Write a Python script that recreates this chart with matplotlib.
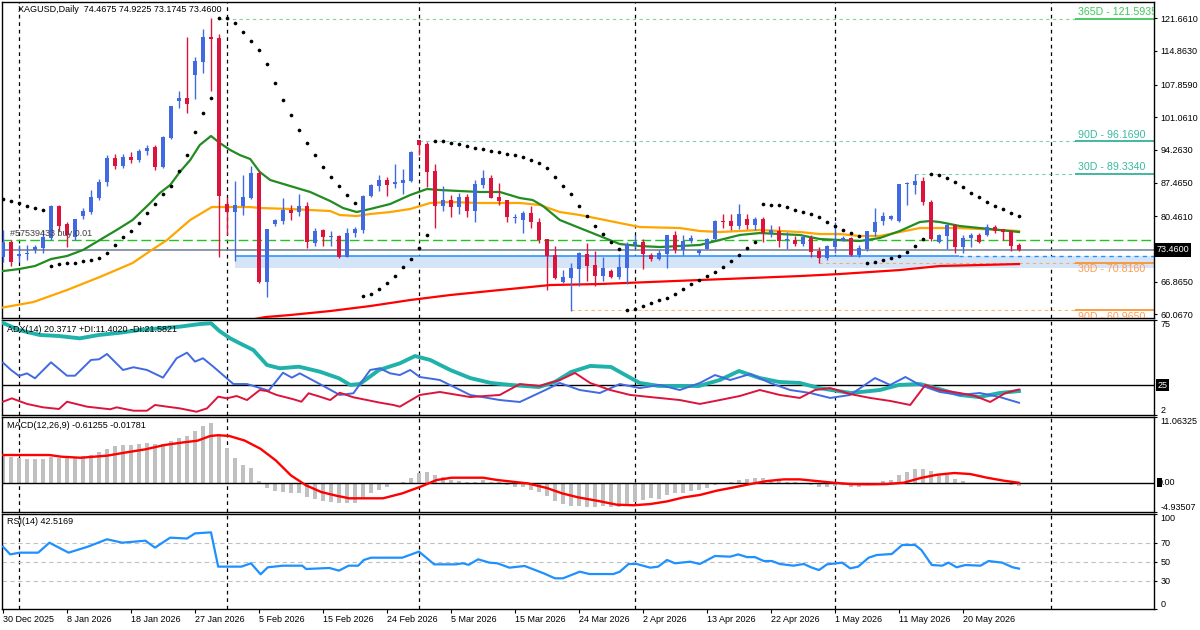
import matplotlib
matplotlib.use("Agg")
import matplotlib.pyplot as plt
from matplotlib.patches import Rectangle

plt.rcParams['font.family'] = ['Liberation Sans', 'DejaVu Sans']
plt.rcParams['font.size'] = 6.5

# ---- daily bars (index 0 = 30 Dec 2025) ----
opens = [71.99, 75.11, 72.2, 72.6, 73.45, 73.8, 75.9, 82.5, 78.8, 76.2,
         80.5, 81.4, 84.2, 87.6, 92.6, 91.0, 92.9, 92.2, 94.0, 94.88,
         90.72, 96.75, 104.45, 105.08, 109.86, 112.57, 117.77, 117.56, 83.02, 81.35,
         82.6, 84.27, 89.47, 66.79, 78.86, 79.48, 81.77, 81.35, 82.6, 74.9,
         77.6, 76.2, 76.36, 71.99, 76.98, 77.6, 84.68, 86.76, 88.01, 87.2,
         87.39, 87.8, 96.34, 95.5, 89.88, 82.6, 83.85, 82.4, 84.47, 81.6,
         86.9, 88.4, 84.5, 83.9, 80.1, 79.7, 81.2, 79.3, 75.7, 72.4,
         66.8, 67.6, 69.5, 72.7, 70.4, 68.0, 69.1, 67.9, 69.7, 74.5,
         75.1, 72.4, 71.6, 72.6, 76.6, 73.5, 75.3, 72.9, 73.7, 75.7,
         79.4, 79.5, 78.5, 80.0, 78.7, 80.0, 77.0, 77.4, 75.5, 75.5,
         74.7, 75.9, 73.2, 71.8, 74.1, 75.3, 75.9, 72.4, 73.7, 77.2,
         79.4, 79.9, 79.5, 87.2, 87.0, 87.9, 83.5, 75.2, 76.4, 78.65,
         74.0, 75.9, 76.6, 76.6, 78.2, 77.75, 77.4, 74.4675]
highs = [77.61, 75.53, 74.5, 74.5, 74.5, 77.6, 82.8, 82.8, 79.3, 80.0,
         82.1, 85.9, 88.2, 93.2, 93.4, 93.5, 93.8, 94.5, 95.3, 95.3,
         97.2, 103.5, 106.53, 117.77, 113.61, 119.43, 121.72, 118.4, 84.47, 87.8,
         89.05, 90.9, 89.9, 77.81, 80.0, 84.3, 82.8, 85.1, 83.4, 78.0,
         77.81, 77.4, 76.6, 78.02, 78.2, 84.9, 87.2, 89.05, 88.6, 91.3,
         90.3, 94.1, 96.34, 96.0, 91.3, 86.8, 84.9, 85.3, 85.0, 88.0,
         90.1, 89.1, 87.4, 83.9, 80.9, 81.6, 82.6, 80.1, 75.7, 74.3,
         69.3, 70.8, 73.0, 75.0, 73.3, 72.0, 69.5, 72.7, 75.1, 76.6,
         75.7, 72.8, 73.4, 76.6, 77.3, 76.6, 76.6, 73.7, 76.0, 79.7,
         80.9, 80.9, 83.0, 80.9, 80.4, 80.3, 78.7, 78.4, 77.1, 76.4,
         76.6, 76.6, 74.1, 74.4, 79.3, 76.3, 76.2, 74.4, 77.4, 82.2,
         81.4, 80.8, 87.2, 87.6, 89.3, 88.6, 83.9, 76.8, 78.9, 78.9,
         76.6, 76.9, 76.9, 78.9, 78.65, 77.75, 77.6, 74.9225]
lows = [70.95, 70.12, 70.95, 71.4, 72.8, 72.8, 75.5, 77.3, 74.1, 75.5,
        80.0, 81.0, 83.8, 86.8, 90.2, 90.5, 91.5, 91.8, 93.2, 90.09,
        90.5, 96.5, 103.0, 101.95, 104.87, 110.28, 106.53, 72.0, 76.57, 71.16,
        80.73, 84.0, 66.6, 63.66, 78.4, 78.9, 79.7, 80.6, 73.86, 74.3,
        74.3, 74.3, 71.8, 71.99, 76.1, 77.0, 84.5, 85.8, 84.6, 86.4,
        85.1, 87.5, 93.2, 86.6, 78.0, 81.6, 80.3, 80.9, 80.3, 79.3,
        86.4, 84.3, 82.8, 79.3, 79.1, 77.0, 78.0, 74.9, 65.1, 67.4,
        66.6, 60.8, 65.9, 67.1, 65.9, 67.0, 67.7, 67.4, 66.4, 73.8,
        69.5, 71.1, 71.4, 69.7, 72.8, 72.4, 74.9, 72.4, 73.6, 75.5,
        78.0, 77.7, 77.8, 77.9, 77.6, 75.1, 76.1, 74.1, 73.6, 74.3,
        74.3, 72.0, 70.7, 71.4, 72.8, 75.3, 72.2, 71.9, 73.2, 76.3,
        78.6, 79.7, 79.3, 82.9, 85.2, 82.9, 75.3, 75.0, 73.65, 72.75,
        72.9, 74.1, 74.9, 76.4, 77.05, 75.5, 73.3, 73.1745]
closes = [75.11, 70.95, 72.6, 72.9, 74.0, 76.2, 82.7, 78.4, 76.6, 79.8,
          81.56, 84.4, 87.6, 92.6, 91.0, 92.9, 92.2, 94.0, 94.6, 90.72,
          96.96, 103.41, 105.08, 103.83, 112.78, 117.77, 117.35, 84.68, 81.35, 82.81,
          84.47, 89.47, 66.79, 77.81, 79.69, 81.77, 81.15, 82.6, 75.11, 77.4,
          76.15, 76.4, 71.99, 76.98, 77.81, 84.68, 86.97, 88.01, 86.97, 87.5,
          88.01, 93.84, 95.3, 89.68, 82.6, 83.85, 82.4, 84.47, 81.6, 87.2,
          88.4, 84.3, 83.6, 80.3, 80.2, 81.2, 79.3, 75.5, 72.2, 67.6,
          67.8, 69.7, 72.8, 70.2, 68.0, 69.7, 67.9, 70.0, 74.7, 75.1,
          72.6, 71.6, 72.8, 76.6, 73.5, 75.3, 76.0, 73.5, 75.7, 79.5,
          79.2, 78.5, 81.0, 78.7, 80.0, 77.0, 77.6, 75.3, 75.6, 74.7,
          76.1, 73.0, 71.8, 74.3, 75.3, 76.0, 72.4, 73.8, 77.4, 79.3,
          80.5, 80.5, 87.2, 87.4, 87.9, 83.5, 75.7, 76.6, 78.65, 74.0,
          75.9, 76.6, 75.2, 78.2, 77.5, 77.25, 74.3, 73.46]

sar = [84.06, 83.64, 83.23, 82.60, 82.19, 81.77,
       70.12, 70.53, 70.74, 70.74, 71.16, 71.37, 71.78, 72.82, 74.49, 76.15, 77.40,
       79.07, 81.15, 83.02, 85.10, 86.76, 89.89, 93.20, 98.0, 101.95, 105.08,
       121.7, 121.7, 120.7, 118.81, 116.94, 115.07, 112.15, 108.2, 104.66, 101.54,
       98.42, 95.71, 93.2, 90.7, 88.64, 86.76, 84.89, 83.23,
       63.87, 64.29, 65.33, 66.58, 68.03, 69.91, 71.57, 73.86, 76.57,
       96.13, 96.13, 95.71, 95.5, 95.09, 94.67, 94.46, 94.05, 93.84, 93.42, 93.2,
       92.8, 92.17, 91.55, 90.51, 88.64, 86.76, 85.1, 82.6, 80.52, 78.44, 76.77,
       75.11, 73.65,
       60.96, 61.17, 61.79, 62.42, 63.04, 63.46, 64.29, 65.33, 66.37, 67.2, 68.03,
       68.87, 69.91, 71.16, 72.41, 73.86, 75.11,
       83.02, 82.81, 82.81, 82.39, 81.77, 81.35, 80.94, 80.31, 79.27, 78.44, 77.61,
       76.98, 76.36,
       70.74, 70.95, 71.37, 71.78, 72.2, 73.03, 74.28, 75.73,
       89.26, 89.05, 88.43, 87.6, 86.56, 85.31, 84.47, 83.43, 82.6, 81.98, 81.15, 80.52]

# moving averages (bar position, price)
ma_fast_x = [0, 2, 4, 6, 8, 10, 12.1, 14.2, 16.2, 18.4, 19.6, 20.9, 22.1, 23.4, 24.6, 26,
             27.1, 28.4, 29.6, 30.9, 32.1, 33.4, 35.9, 38.4, 40.9, 42.5, 44.2, 45.9, 48.4,
             50.9, 53, 54.6, 57.1, 59.6, 62.1, 64.6, 66.2, 67.5, 69.6, 72.1, 74.6, 77.1,
             79.6, 82.1, 84.6, 87.1, 89.6, 92.1, 94.6, 97.1, 99.6, 102.1, 104.6, 107.1,
             109.6, 112.1, 114.6, 115.9, 117.1, 119.6, 122.1, 124.6, 127]
ma_fast = [69.07, 69.49, 70.12, 71.57, 72.2, 73.45, 75.53, 77.61, 79.69, 83.23, 85.31,
           86.97, 89.68, 92.17, 95.3, 97.17, 95.71, 94.26, 93.21, 92.38, 89.68, 88.01,
           86.76, 85.52, 83.64, 82.19, 81.35, 81.98, 83.02, 84.89, 86.14, 85.93, 85.72,
           85.52, 85.52, 84.27, 83.85, 82.6, 79.69, 78.02, 76.36, 74.69, 74.28, 74.07,
           74.28, 74.49, 75.53, 76.57, 76.98, 76.77, 76.57, 75.73, 75.53, 75.32, 75.94,
           77.4, 79.27, 79.48, 79.27, 78.44, 78.02, 77.61, 77.19]
ma_mid_x = [-0.4, 3.8, 8, 12.1, 16.2, 18.4, 20.5, 23.4, 26.1, 30.9, 32.1, 35.9, 40.9, 42.1,
            44.2, 45.9, 48.4, 50.9, 53.4, 55.9, 59.6, 64.6, 67.1, 69.6, 72.1, 74.6, 77.1,
            79.6, 84.6, 87.1, 89.6, 94.6, 97.1, 99.6, 102.1, 104.6, 107.1, 109.6, 112.1,
            114.6, 119.6, 124.6, 127]
ma_mid = [61.37, 62.62, 65.12, 67.83, 70.74, 73.24, 75.53, 79.69, 82.39, 82.39, 82.19,
          81.98, 81.56, 80.73, 80.52, 80.94, 81.35, 81.98, 83.23, 83.43, 83.23, 83.23,
          82.81, 81.35, 80.73, 79.9, 79.06, 78.23, 78.02, 77.4, 77.19, 77.61, 77.4, 77.19,
          76.77, 76.77, 76.36, 76.36, 77.19, 78.02, 78.02, 77.61, 77.4]
ma_slow_x = [31.5, 32.8, 35.9, 40.9, 45.9, 50.9, 55.9, 62.1, 68.4, 74.6, 80.9, 87.1, 93.4,
             99.6, 104.6, 112.1, 117.1, 122.1, 127]
ma_slow = [59.1, 59.5, 59.92, 60.75, 61.79, 63.04, 64.08, 65.12, 66.16, 66.37, 66.79,
           67.2, 67.62, 68.03, 68.45, 69.28, 70.12, 70.32, 70.53]

# price levels
level_names = ['365D - 121.5935', '90D - 96.1690', '30D - 89.3340', '30D - 70.8160', '90D - 60.9650']
level_values = [121.5935, 96.169, 89.334, 70.816, 60.965]
level_start = [27, 52, 114, 102, 71]
buy_price = 75.53
last_price = 73.46
zone_low, zone_high, zone_start = 69.75, 72.2, 29

# ADX(14)
adx_x = [0, 2, 4.6, 7, 9.6, 12, 14.6, 17, 19.6, 22, 24.6, 26, 27, 28.4, 29.6, 31.3, 33,
         34.6, 37, 39.6, 42, 43.4, 44.6, 47, 49.6, 51.5, 53.4, 55.9, 58.4, 61, 63.4, 67,
         69, 71, 73.4, 76, 77.8, 79.6, 82, 87, 89.6, 92, 94.6, 97, 99.6, 102, 106, 109.6,
         112, 114.6, 117, 119.6, 122, 124.6, 127]
adx_v = [72.7, 67.3, 63.5, 62.7, 60.9, 63.5, 65.2, 67.3, 68.6, 69.8, 71.9, 72.5, 66.8,
         60.9, 57.1, 51.9, 40.4, 37.9, 39.1, 35.3, 30.2, 25.1, 25.8, 36.6, 41.7, 47.3,
         44.3, 36.6, 30.4, 26.6, 25.1, 23.5, 27.4, 35.0, 39.7, 38.9, 32.7, 26.6, 24.3,
         24.3, 28.9, 35.8, 30.4, 27.4, 26.6, 22.7, 18.9, 21.2, 25.1, 25.8, 22, 17.4, 15.8,
         18.9, 20.4]
pdi_x = [0, 1, 2, 3, 4, 6, 8, 9, 11, 12, 13, 15, 16.3, 18, 20, 21.7, 23, 24, 25, 26.3,
         28.8, 30.5, 33.2, 35, 36.1, 37.1, 39.6, 42.1, 43.8, 45.9, 47.1, 48.4, 49.6, 50.9,
         52.1, 54.6, 58.4, 62.1, 64.6, 67.8, 69.6, 72.1, 74.6, 77.1, 79.6, 82.1, 84.6,
         87.1, 89, 90.9, 93.4, 95.9, 98.4, 100.9, 103.4, 105.9, 109, 110.9, 112.8, 114.6,
         117.1, 119.6, 122.1, 124.6, 127]
pdi_v = [42.2, 36.6, 32, 34, 30.2, 42.5, 32.2, 32.2, 44.3, 44.8, 48.9, 36.6, 38.7, 36.6,
         30.7, 45.6, 49.9, 43, 45.6, 39.1, 25.8, 25.8, 20.7, 34.5, 30.7, 34, 25.8, 17.4,
         18.7, 36.6, 37.9, 34, 32.7, 36.6, 31.2, 28.9, 17.4, 13.5, 12, 21.2, 26.6, 21.2,
         18.9, 25.8, 22.7, 25.1, 21.2, 26.6, 32.7, 28.9, 33.5, 26.6, 21.2, 18.9, 15.1,
         17.4, 30.4, 25.1, 31.2, 25.1, 19.7, 17.4, 18.9, 15.8, 11.4]
ndi_x = [0, 1.1, 3, 5, 7, 8, 10.5, 13.4, 14.2, 16.3, 18, 19, 20.5, 22.1, 24.2, 25.5, 26.9,
         28, 29.2, 30.5, 32.1, 33, 34.2, 36.3, 37.3, 38.2, 39.6, 40.9, 42.1, 43.8, 45.5,
         47.1, 48.8, 49.6, 52.1, 54.6, 58.4, 62.1, 64.6, 67.1, 69.6, 71.5, 73.4, 75.9,
         78.4, 80.9, 84.6, 87.1, 89.6, 92.1, 94.6, 97.1, 99.6, 101.5, 103.4, 105.9, 108.4,
         110.9, 113.4, 115.3, 117.1, 119.6, 121.5, 123.4, 125.3, 127]
ndi_v = [12.2, 14.8, 10.5, 7.9, 6.6, 12.2, 8.4, 6.4, 7.9, 5.3, 5.3, 9.7, 8.4, 7.1, 4.5,
         7.1, 16.1, 14.8, 16.6, 13.5, 21.2, 20.4, 17.4, 14.1, 12.2, 18.7, 16.1, 13.5, 19.1,
         15.6, 13.5, 11.5, 9.7, 8.4, 17.4, 19.7, 15.8, 17.4, 25.8, 24.3, 28.9, 34.3, 26.6,
         21.2, 17.4, 15.8, 13.5, 10.5, 13.5, 16.6, 21.2, 17.4, 15.1, 21.2, 22.7, 18.1,
         15.1, 12.8, 9.7, 25.1, 21.2, 18.9, 16.6, 12, 18.9, 21.6]

# MACD(12,26,9)
macd_hist = [4.66, 4.38, 4.2, 4.0, 3.94, 3.94, 4.38, 4.2, 4.2, 4.38,
             4.55, 4.66, 5.1, 5.7, 6.1, 6.28, 6.4, 6.5, 6.63, 6.5,
             6.5, 7.1, 7.57, 7.85, 8.7, 9.6, 10.1, 8.0, 5.84, 4.1,
             2.98, 2.4, 0.34, -0.84, -1.4, -1.5, -1.8, -1.8, -2.47, -2.76,
             -3.04, -3.2, -3.5, -3.4, -3.4, -2.76, -1.8, -1.23, -0.67, -0.3,
             0.17, 0.84, 1.58, 1.85, 1.3, 1.0, 0.5, 0.3, 0.1, 0.2,
             0.5, 0.2, 0.1, -0.34, -0.67, -0.8, -1.23, -1.6, -2.2, -3.04,
             -3.6, -3.9, -4.0, -4.1, -4.1, -4.0, -4.1, -4.1, -3.7, -3.2,
             -2.9, -2.6, -2.7, -2.05, -1.8, -1.7, -1.4, -1.23, -0.9, -0.34,
             -0.1, 0.2, 0.45, 0.6, 0.8, 0.8, 0.45, 0.34, 0.17, 0.17,
             0.0, -0.34, -0.67, -0.67, -0.56, -0.34, -0.8, -0.8, -0.34, -0.23,
             0.34, 0.45, 1.35, 1.8, 2.3, 2.35, 1.9, 1.35, 1.35, 0.56,
             0.34, 0.0, 0.0, 0.0, -0.1, -0.1, -0.34, -0.61]
signal_x = [0, 5.8, 7.3, 9.7, 13, 15.4, 17.8, 20.2, 22.6, 24.3, 25.9, 26.9, 28.3, 30.2,
            32.2, 34.1, 36, 37.9, 39.8, 41.7, 43.3, 47.5, 49.9, 52.2, 54.2, 56.1, 60,
            61.8, 65.6, 68, 69.9, 71.9, 74.5, 76.7, 78.8, 80.9, 83, 85.1, 87.1, 89.2,
            91.3, 93.4, 95.5, 97.6, 99.6, 101.7, 103.8, 105.9, 108, 110.5, 112.6, 114.7,
            116.8, 118.9, 120.9, 123, 125.1, 127]
signal_v = [4.66, 4.66, 4.38, 4.2, 4.55, 5.1, 5.62, 6.35, 6.8, 7.07, 7.86, 8.0, 7.86, 7.1,
            5.7, 3.75, 1.22, -0.46, -1.58, -2.2, -2.63, -2.63, -1.8, -0.67, 0.45, 0.84,
            0.84, 0.45, -0.12, -0.9, -1.8, -2.47, -3.1, -3.7, -3.8, -3.6, -3.15, -2.47,
            -2.07, -1.35, -0.8, -0.23, 0.28, 0.56, 0.56, 0.28, 0.0, -0.23, -0.28, -0.23,
            0.0, 0.79, 1.35, 1.63, 1.46, 0.84, 0.34, -0.02]

# RSI(14)
rsi_x = [0, 0.9, 2.1, 4.4, 5.8, 8.2, 10.6, 13, 14.9, 17.8, 19, 20.9, 23, 24, 26, 26.9,
         29.8, 31, 32.2, 33.1, 35, 37.4, 37.9, 40.8, 42, 43.2, 44.4, 45.1, 46, 49.9, 52,
         53.9, 56.6, 57.5, 58.2, 59.4, 60.8, 61.8, 63.3, 65.2, 67.6, 69, 70, 72.1, 73.3,
         76.3, 77.1, 78.2, 79.2, 80.9, 81.9, 83, 84, 85.9, 87.1, 89, 90.9, 91.9, 93, 94,
         95.1, 96.1, 97.1, 98.8, 100.1, 101, 102, 103, 104.9, 105.9, 106.9, 108.2, 109.2,
         111.1, 112.4, 114, 114.8, 116.1, 117.4, 118.2, 119.2, 120.3, 122.2, 123.2, 124.9,
         126.2, 127]
rsi_v = [65.6, 57.5, 59.3, 59.3, 69.8, 59.3, 65.6, 73.4, 69.8, 71.9, 64.6, 75.1, 74.2,
         79.6, 80.7, 44.6, 44.6, 48.1, 36.5, 43.9, 45.6, 45.6, 42.1, 43.2, 40.4, 45.6,
         45.6, 51.6, 54, 54, 60.4, 47, 47, 48.1, 46.5, 52.3, 48.8, 48.1, 43.5, 45.3, 37.5,
         32.3, 32.3, 39.3, 36.8, 36.8, 39.3, 47.4, 47.4, 43.5, 44.6, 51.6, 48.1, 49.8,
         47.4, 55.8, 55.1, 57.5, 54.6, 54.6, 50.5, 50.5, 47.4, 45.6, 47.4, 43.9, 41, 47,
         48.8, 42.8, 44.6, 54, 56.8, 57.9, 67.4, 67.4, 62.1, 46.3, 45.6, 48.8, 43.9, 46.3,
         45.6, 50.5, 48.8, 43.9, 42.52]

date_labels = ['30 Dec 2025', '8 Jan 2026', '18 Jan 2026', '27 Jan 2026', '5 Feb 2026',
               '15 Feb 2026', '24 Feb 2026', '5 Mar 2026', '15 Mar 2026', '24 Mar 2026',
               '2 Apr 2026', '13 Apr 2026', '22 Apr 2026', '1 May 2026', '11 May 2026',
               '20 May 2026']
date_ticks = list(range(0, 8 * len(date_labels), 8))
month_breaks = [2, 28, 52, 79, 104, 131]
price_ticks = [60.067, 66.865, 80.461, 87.465, 94.263, 101.061, 107.859, 114.863, 121.661]

UP, DOWN = '#4169E1', '#DC143C'
X_MAX = 143.875

fig = plt.figure(figsize=(12, 6.3), dpi=100)
W, H = 1200.0, 630.0


def panel(top, bottom):
    return fig.add_axes([2 / W, 1 - bottom / H, 1152 / W, (bottom - top) / H])


ax = panel(2, 318)
ax_adx = panel(320, 415)
ax_macd = panel(417, 512)
ax_rsi = panel(514, 609)

for a in (ax, ax_adx, ax_macd, ax_rsi):
    a.set_xlim(-0.125, X_MAX)
    a.yaxis.tick_right()
    a.tick_params(axis='y', direction='out', length=2.5, width=0.8, pad=2,
                  labelsize=6.5, colors='black')
    a.tick_params(axis='x', bottom=False, labelbottom=False)
    for s in a.spines.values():
        s.set_linewidth(1.0)
    for b in month_breaks:
        a.axvline(b, color='black', lw=0.9, ls=(0, (3, 3)), zorder=1)

# ---------------- main price panel ----------------
ax.set_ylim(59.3, 125.05)
n = len(closes)
xs = list(range(n))

ax.add_patch(Rectangle((zone_start, zone_low), X_MAX - zone_start, zone_high - zone_low,
                       facecolor='#d5e5f7', edgecolor='none', zorder=1))
ax.hlines(zone_high, zone_start, 119.5, color='#1E90FF', lw=1.1, zorder=2)
ax.hlines(zone_high, 119.5, X_MAX, color='#1E90FF', lw=1.0, ls=(0, (3, 3)), zorder=2)

ax.axhline(buy_price, color='#22c422', lw=1.0, ls=(0, (7, 3)), zorder=2)
ax.axhline(last_price, color='#778899', lw=1.2, zorder=2)

line_cols = ['#2fbf4a', '#22aa90', '#22aa90', '#ff8a1c', '#ff8a1c']
text_cols = ['#3cc95a', '#3ab9a0', '#3ab9a0', '#ff9a50', '#ff9a50']
for name, val, start, lc, tc in zip(level_names, level_values, level_start, line_cols, text_cols):
    ax.hlines(val, start, 134, color=lc, lw=0.8, ls=(0, (3, 3)), alpha=0.6, zorder=2)
    ax.hlines(val, 134, X_MAX, color=lc, lw=1.2, zorder=2)
    upper = val > last_price
    ax.text(134.4, val + (0.25 if upper else -0.35), name, color=tc, fontsize=7.7,
            va='bottom' if upper else 'top', ha='left', clip_on=True, zorder=3)

ax.plot(ma_slow_x, ma_slow, color='#FF0000', lw=1.6, zorder=3)
ax.plot(ma_mid_x, ma_mid, color='#FFA500', lw=1.6, zorder=3)
ax.plot(ma_fast_x, ma_fast, color='#228B22', lw=1.6, zorder=3)

cols = [UP if c >= o else DOWN for o, c in zip(opens, closes)]
ax.vlines(xs, lows, highs, colors=cols, lw=1.0, zorder=4)
ax.bar(xs, [max(abs(c - o), 0.15) for o, c in zip(opens, closes)],
       bottom=[min(o, c) for o, c in zip(opens, closes)],
       width=0.62, color=cols, linewidth=0, zorder=5)

ax.scatter(xs, sar, s=7, color='black', zorder=6, linewidths=0)

ax.set_yticks(price_ticks)
ax.set_yticklabels(['%.4f' % p for p in price_ticks])
ax.text(1.002, last_price, '%.4f' % last_price, transform=ax.get_yaxis_transform(),
        color='white', fontsize=6.5, va='center', ha='left',
        bbox=dict(facecolor='black', edgecolor='none', pad=1.6))

fig.text(18 / W, 1 - 10 / H, 'XAGUSD,Daily  74.4675 74.9225 73.1745 73.4600',
         va='center', ha='left', fontsize=6.5, color='black')
fig.text(10 / W, 1 - 234 / H, '#57539433 buy 0.01', va='center', ha='left',
         fontsize=6.5, color='#404040')

# ---------------- ADX ----------------
ax_adx.set_ylim(2, 75)
ax_adx.axhline(25, color='black', lw=1.0, zorder=2)
ax_adx.plot(adx_x, adx_v, color='#20B2AA', lw=2.8, zorder=3)
ax_adx.plot(pdi_x, pdi_v, color='#4169E1', lw=1.4, zorder=4)
ax_adx.plot(ndi_x, ndi_v, color='#DC143C', lw=1.4, zorder=4)
ax_adx.set_yticks([2, 75])
ax_adx.set_yticklabels(['2', '75'])
ax_adx.get_yticklabels()[0].set_va('bottom')
ax_adx.get_yticklabels()[-1].set_va('top')
ax_adx.text(1.003, 25, '25', transform=ax_adx.get_yaxis_transform(), color='white',
            fontsize=6.5, va='center', ha='left',
            bbox=dict(facecolor='black', edgecolor='none', pad=0.8))
fig.text(7 / W, 1 - 329 / H, 'ADX(14) 20.3717 +DI:11.4020 -DI:21.5821',
         va='center', ha='left', fontsize=6.5)

# ---------------- MACD ----------------
ax_macd.set_ylim(-4.93507, 11.06325)
ax_macd.bar(xs, macd_hist, width=0.42, color='#C0C0C0', linewidth=0, zorder=2)
ax_macd.axhline(0, color='black', lw=1.0, zorder=3)
ax_macd.plot(signal_x, signal_v, color='#FF0000', lw=1.7, zorder=4)
ax_macd.set_yticks([-4.93507, 11.06325])
ax_macd.set_yticklabels(['-4.93507', '11.06325'])
ax_macd.get_yticklabels()[0].set_va('bottom')
ax_macd.get_yticklabels()[-1].set_va('top')
ax_macd.text(1.003, 0, '0.00', transform=ax_macd.get_yaxis_transform(), color='black',
             fontsize=6.5, va='center', ha='left')
ax_macd.add_patch(Rectangle((1.0025, -0.75), 0.0045, 1.5, transform=ax_macd.get_yaxis_transform(),
                            facecolor='black', edgecolor='none', clip_on=False, zorder=5))
fig.text(7 / W, 1 - 426 / H, 'MACD(12,26,9) -0.61255 -0.01781',
         va='center', ha='left', fontsize=6.5)

# ---------------- RSI ----------------
ax_rsi.set_ylim(0, 100)
for lv in (30, 50, 70):
    ax_rsi.axhline(lv, color='#C0C0C0', lw=0.8, ls=(0, (4, 3)), zorder=2)
ax_rsi.plot(rsi_x, rsi_v, color='#1E90FF', lw=1.6, zorder=3)
ax_rsi.set_yticks([0, 30, 50, 70, 100])
ax_rsi.set_yticklabels(['0', '30', '50', '70', '100'])
ax_rsi.get_yticklabels()[0].set_va('bottom')
ax_rsi.get_yticklabels()[-1].set_va('top')
fig.text(7 / W, 1 - 522 / H, 'RSI(14) 42.5169', va='center', ha='left', fontsize=6.5)

ax_rsi.set_xticks(date_ticks)
ax_rsi.set_xticklabels(date_labels, ha='left')
ax_rsi.tick_params(axis='x', bottom=True, labelbottom=True, direction='out',
                   length=3, width=0.8, pad=1.5, labelsize=6.5)

fig.savefig('out.png', dpi=100)
